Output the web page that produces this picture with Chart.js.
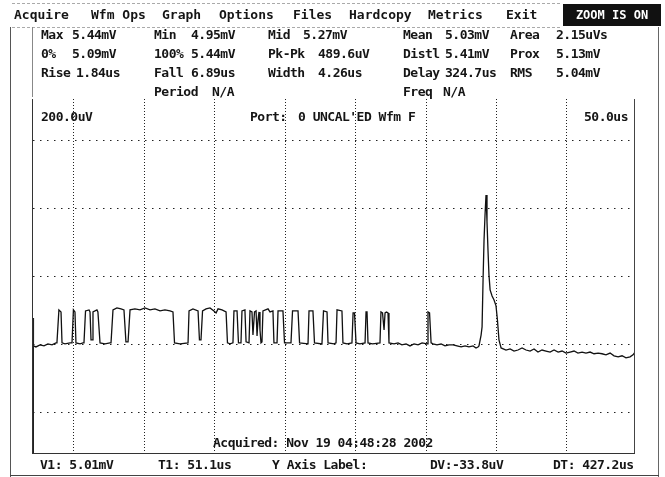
<!DOCTYPE html>
<html><head><meta charset="utf-8">
<script src="https://cdn.jsdelivr.net/npm/chart.js@4.4.0/dist/chart.umd.min.js"></script>
<style>
html,body{margin:0;padding:0;background:#fff;}
#wrap{position:relative;width:665px;height:477px;overflow:hidden;background:#fff;}
canvas{position:absolute;left:0;top:0;}
.t{position:absolute;font-family:"DejaVu Sans Mono",monospace;font-weight:bold;font-size:13px;letter-spacing:-0.5px;line-height:16px;color:#151515;white-space:pre;}
.ln{position:absolute;background:#333;}
.dash{position:absolute;height:0;border-top:1px dashed #aaa;}
#zoom{position:absolute;left:563px;top:4px;width:98px;height:22px;background:#111;color:#fff;font-family:"DejaVu Sans Mono",monospace;font-weight:bold;font-size:12px;line-height:22px;text-align:center;white-space:pre;}
</style></head><body>
<div id="wrap"><canvas id="c" width="665" height="477"></canvas></div>
<script>
// ---------------- data ----------------
// time in microseconds, voltage in millivolts
const timeUs = [
-29.1,-28.8,-27.0,-24.1,-21.3,-18.5,-15.6,-12.8,-12.1,-10.7,-9.2,-8.5,-6.4,-2.8,-1.4,-0.4,0.7,1.4,4.3,6.4,
7.1,8.2,10.7,11.4,12.1,12.8,13.5,16.3,17.0,18.5,22.0,25.6,26.3,27.7,30.5,33.4,35.5,36.9,38.4,39.8,
43.3,46.9,50.4,54.0,57.5,61.1,64.6,68.2,70.3,71.4,75.3,81.0,81.7,84.5,88.1,89.1,90.2,91.3,93.8,96.6,
99.4,100.9,102.3,105.1,108.0,109.0,110.8,112.9,113.6,115.8,116.8,118.6,119.3,121.4,122.2,124.3,125.0,126.4,127.1,128.2,
129.3,130.0,130.7,131.4,132.1,132.8,133.5,134.2,137.8,139.2,141.3,142.0,144.2,144.9,148.4,149.5,154.1,155.2,159.1,160.2,
166.2,166.9,169.7,170.8,176.1,177.2,179.7,180.4,184.7,186.1,186.8,190.3,191.0,193.9,197.4,198.2,199.2,200.3,203.0,206.7,
207.4,208.1,208.8,212.0,217.3,218.0,219.1,220.2,220.9,221.9,223.0,223.7,227.3,230.1,232.9,235.8,238.6,241.5,244.3,247.2,
250.7,251.4,252.5,253.6,255.0,257.8,260.7,263.5,266.3,269.2,272.0,274.9,277.7,280.5,283.4,285.5,286.9,287.6,289.1,289.8,
290.5,291.2,291.9,292.6,293.3,294.0,294.7,295.5,296.9,298.3,299.7,300.7,301.8,303.3,306.8,309.7,312.5,315.3,318.2,321.0,
323.9,326.7,329.5,332.4,335.2,338.1,340.9,343.8,346.6,349.4,352.3,355.1,357.9,360.8,363.6,366.5,369.3,372.2,375.0,377.8,
380.7,383.5,386.4,389.2,392.0,394.9,397.0,398.4
];
const voltageMv = [
5.079,4.997,4.994,5.000,4.997,5.003,5.000,5.006,5.006,5.103,5.097,5.006,5.003,5.006,5.006,5.103,5.097,5.006,5.003,5.006,
5.006,5.100,5.103,5.097,5.015,5.015,5.097,5.103,5.097,5.006,5.003,5.006,5.006,5.103,5.109,5.106,5.103,5.009,5.009,5.103,
5.106,5.103,5.109,5.103,5.106,5.100,5.103,5.100,5.097,5.006,5.003,5.006,5.100,5.106,5.100,5.015,5.015,5.100,5.106,5.109,
5.100,5.094,5.106,5.103,5.097,5.006,5.003,5.006,5.100,5.100,5.006,5.006,5.100,5.103,5.009,5.006,5.100,5.097,5.029,5.097,
5.100,5.026,5.074,5.097,5.044,5.006,5.009,5.100,5.106,5.097,5.100,5.006,5.006,5.100,5.100,5.006,5.006,5.100,5.100,5.006,
5.003,5.100,5.100,5.006,5.003,5.100,5.097,5.006,5.003,5.006,5.103,5.100,5.006,5.003,5.006,5.094,5.094,5.006,5.003,5.006,
5.097,5.097,5.006,5.003,5.006,5.097,5.094,5.044,5.094,5.097,5.094,5.006,5.003,5.006,5.000,5.003,4.997,5.003,5.000,5.006,
5.003,5.097,5.094,5.006,5.003,5.000,5.003,4.997,5.000,5.000,4.997,4.994,4.997,4.994,4.997,4.991,4.994,4.997,5.029,5.053,
5.191,5.309,5.382,5.441,5.362,5.279,5.206,5.162,5.144,5.132,5.115,5.074,5.015,4.991,4.985,4.988,4.982,4.985,4.991,4.985,
4.982,4.988,4.979,4.985,4.982,4.979,4.985,4.979,4.982,4.976,4.979,4.982,4.976,4.979,4.976,4.979,4.974,4.976,4.974,4.971,
4.976,4.968,4.965,4.968,4.962,4.965,4.971,4.979
];
const xGridUs = [0, 50, 100, 150, 200, 250, 300, 350];
const yGridMv = [4.8, 5.0, 5.2, 5.4, 5.6];
const xRangeUs = [-29.1, 398.4];
const yRangeMv = [4.682, 5.7235];

const menuItems = ["Acquire", "Wfm Ops", "Graph", "Options", "Files", "Hardcopy", "Metrics", "Exit"];
const zoomLabel = "ZOOM IS ON";
const statLabels = [
  ["Max", "0%", "Rise", ""],
  ["Min", "100%", "Fall", "Period"],
  ["Mid", "Pk-Pk", "Width", ""],
  ["Mean", "Distl", "Delay", "Freq"],
  ["Area", "Prox", "RMS", ""]
];
const statValues = [
  ["5.44mV", "5.09mV", "1.84us", ""],
  ["4.95mV", "5.44mV", "6.89us", "N/A"],
  ["5.27mV", "489.6uV", "4.26us", ""],
  ["5.03mV", "5.41mV", "324.7us", "N/A"],
  ["2.15uVs", "5.13mV", "5.04mV", ""]
];
const voltsPerDiv = "200.0uV";
const portLabel = "Port:";
const waveLabel = "0 UNCAL'ED Wfm F";
const timePerDiv = "50.0us";
const acquiredLabel = "Acquired: Nov 19 04:48:28 2002";
const footerItems = ["V1: 5.01mV", "T1: 51.1us", "Y Axis Label:", "DV:-33.8uV", "DT: 427.2us"];

// ---------------- layout (positions / styles only) ----------------
const wrap = document.getElementById('wrap');
function txt(s, x, yc, extra) {
  const d = document.createElement('div');
  d.className = 't';
  d.textContent = s;
  d.style.left = x + 'px';
  d.style.top = (yc - 8) + 'px';
  if (extra) Object.assign(d.style, extra);
  wrap.appendChild(d);
  return d;
}
function line(x, y, w, h, color) {
  const d = document.createElement('div');
  d.className = 'ln';
  d.style.left = x + 'px'; d.style.top = y + 'px';
  d.style.width = w + 'px'; d.style.height = h + 'px';
  if (color) d.style.background = color;
  wrap.appendChild(d);
}
function dash(x, y, w) {
  const d = document.createElement('div');
  d.className = 'dash';
  d.style.left = x + 'px'; d.style.top = y + 'px'; d.style.width = w + 'px';
  wrap.appendChild(d);
}

const menuX = [14, 91, 162, 219, 293, 349, 428, 506];
menuItems.forEach((m, i) => txt(m, menuX[i], 15, {letterSpacing: '0px'}));
const z = document.createElement('div'); z.id = 'zoom'; z.textContent = zoomLabel; wrap.appendChild(z);
dash(12, 3, 548); dash(12, 27, 548);

const rowY = [35, 54, 73, 92];
const labelX = [41, 154, 268, 403, 510];
const valueX = [
  [72, 72, 76, 0],
  [191, 191, 191, 212],
  [303, 318, 318, 0],
  [445, 445, 445, 443],
  [556, 556, 556, 0]
];
statLabels.forEach((col, c) => col.forEach((s, r) => { if (s) txt(s, labelX[c], rowY[r]); }));
statValues.forEach((col, c) => col.forEach((s, r) => { if (s) txt(s, valueX[c][r], rowY[r]); }));

txt(voltsPerDiv, 41, 117);
txt(portLabel, 250, 117);
txt(waveLabel, 298, 117);
txt(timePerDiv, 0, 117, {left: 'auto', right: (665 - 628) + 'px'});
txt(acquiredLabel, 213, 443);
const footX = [40, 158, 272, 430, 553];
footerItems.forEach((s, i) => txt(s, footX[i], 465));

// frames
line(10, 27, 1, 450, '#555');      // outer left
line(658, 27, 1, 450, '#666');     // outer right
line(10, 475, 649, 1, '#444');     // outer bottom
line(32, 27, 1, 70, '#888');       // stats panel left
line(32, 99, 1, 355, '#333');      // plot left
line(33, 318, 1, 136, '#222');     // heavier lower part of plot left edge
line(634, 99, 1, 355, '#444');     // plot right
line(32, 453, 603, 1, '#333');     // plot bottom

// ---------------- chart ----------------
const points = timeUs.map((t, i) => ({x: t, y: voltageMv[i]}));
new Chart(document.getElementById('c'), {
  type: 'line',
  data: { datasets: [{ data: points, borderColor: '#111', borderWidth: 1.3, pointRadius: 0, tension: 0, fill: false }] },
  options: {
    responsive: false, animation: false, devicePixelRatio: 1,
    layout: { padding: { left: 33, right: 30, top: 99, bottom: 24 } },
    plugins: { legend: { display: false }, tooltip: { enabled: false } },
    scales: {
      x: {
        type: 'linear', min: xRangeUs[0], max: xRangeUs[1],
        afterBuildTicks: s => { s.ticks = xGridUs.map(v => ({value: v})); },
        ticks: { display: false },
        grid: { drawTicks: false, color: '#222', lineWidth: 1 },
        border: { display: false, dash: [1, 2] }
      },
      y: {
        type: 'linear', min: yRangeMv[0], max: yRangeMv[1],
        afterBuildTicks: s => { s.ticks = yGridMv.map(v => ({value: v})); },
        ticks: { display: false },
        grid: { drawTicks: false, color: '#222', lineWidth: 1 },
        border: { display: false, dash: [1.5, 5.5] }
      }
    }
  }
});
</script>
</body></html>
